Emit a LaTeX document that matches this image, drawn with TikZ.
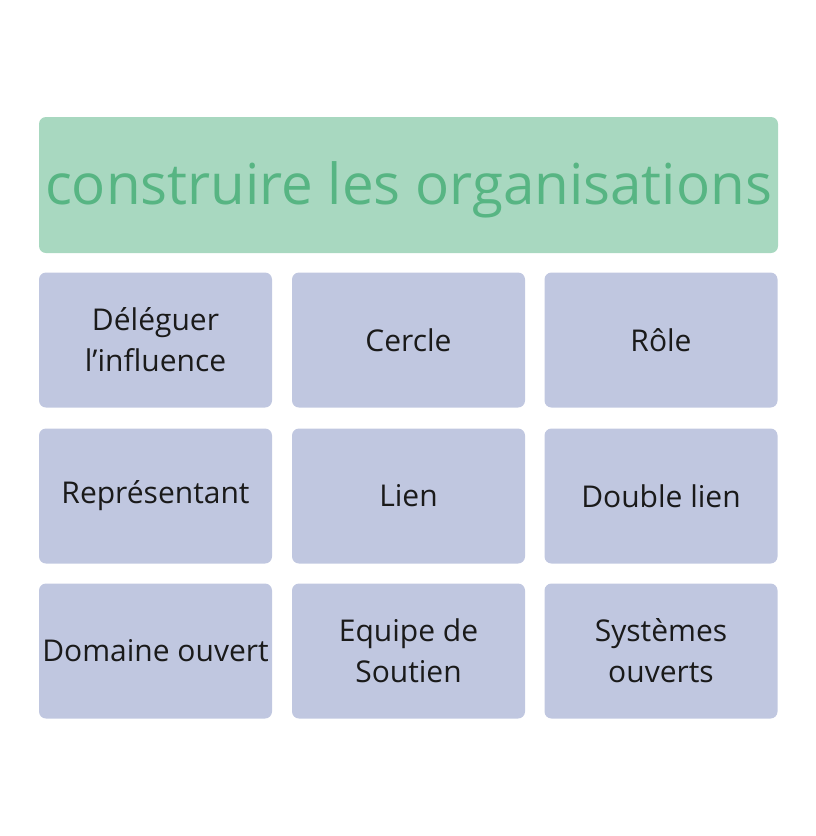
\documentclass[tikz,border=0pt]{standalone}
\usepackage{fontspec}
\setmainfont{Open Sans}
\usepackage{xcolor}
\definecolor{titlefill}{HTML}{A8D8C0}
\definecolor{titletext}{HTML}{57B583}
\definecolor{cellfill}{HTML}{C0C7E0}
\definecolor{celltext}{HTML}{1A1A1A}
\begin{document}
\begin{tikzpicture}[x=1pt,y=-1pt,
  title/.style={fill=titlefill, rounded corners=7pt, minimum width=739pt, minimum height=136pt,
    text=titletext, font=\fontsize{56.5}{66}\selectfont, inner sep=0pt},
  cell/.style={fill=cellfill, rounded corners=7pt, minimum width=233pt, minimum height=135pt,
    text=celltext, align=center, font=\fontsize{30}{41}\selectfont, inner sep=0pt}]
\useasboundingbox (0,0) rectangle (816,836);
\node[title] (top) at (408.5,185) {\raisebox{-5pt}[\height][\depth]{construire les organisations}};
\node[cell] (deleguer) at (155.5,340) {Déléguer\\l’influence};
\node[cell] (cercle) at (408.5,340) {Cercle};
\node[cell] (role) at (661,340) {Rôle};
\node[cell] (repr) at (155.5,496) {Représentant};
\node[cell] (lien) at (408.5,496) {Lien};
\node[cell] (double) at (661,496) {Double lien};
\node[cell] (domaine) at (155.5,651) {Domaine ouvert};
\node[cell] (equipe) at (408.5,651) {Equipe de\\Soutien};
\node[cell] (systemes) at (661,651) {Systèmes\\ouverts};
\end{tikzpicture}
\end{document}
